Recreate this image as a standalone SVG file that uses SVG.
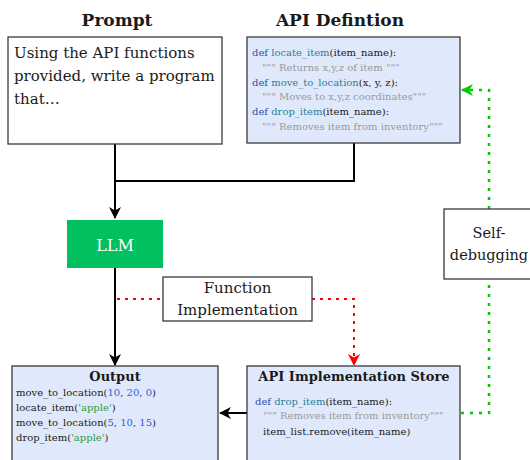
<svg xmlns="http://www.w3.org/2000/svg" width="530" height="460" viewBox="0 0 530 460">
<defs>
<style>
.box{stroke:#3a3a3a;stroke-width:1.3}
.blue{fill:#e0e9fb}
.white{fill:#ffffff}
.t{font-family:"DejaVu Serif","Liberation Serif",serif;fill:#1a1a1a}
.title{font-family:"DejaVu Serif","Liberation Serif",serif;font-weight:bold;fill:#1a1a1a}
.code{font-family:"DejaVu Serif","Liberation Serif",serif;font-size:10px;fill:#1a1a1a}
.kw{fill:#2b4fae}
.fn{fill:#2a7f9c}
.doc{fill:#9a9a9a}
.num{fill:#2a5ee0}
.str{fill:#2f9a3a}
.solid{fill:none;stroke:#000;stroke-width:2}
.red{fill:none;stroke:#ff0000;stroke-width:2;stroke-dasharray:3 5}
.green{fill:none;stroke:#00cc00;stroke-width:2.5;stroke-dasharray:3 6}
</style>
<marker id="ab" markerWidth="12" markerHeight="12" viewBox="0 0 12 12" refX="11" refY="6" orient="auto" markerUnits="userSpaceOnUse">
<path d="M0,0 L12,6 L0,12 L3.5,6 z" fill="#000"/>
</marker>
<marker id="ar" markerWidth="12" markerHeight="12" viewBox="0 0 12 12" refX="11" refY="6" orient="auto" markerUnits="userSpaceOnUse">
<path d="M0,0 L12,6 L0,12 L3.5,6 z" fill="#ff0000"/>
</marker>
<marker id="ag" markerWidth="12" markerHeight="12" viewBox="0 0 12 12" refX="11" refY="6" orient="auto" markerUnits="userSpaceOnUse">
<path d="M0,0 L12,6 L0,12 L3.5,6 z" fill="#00cc00"/>
</marker>
</defs>
<rect width="530" height="460" fill="#ffffff"/>

<g id="connectors">
<path class="solid" d="M115,144 L115,218" marker-end="url(#ab)"/>
<path class="solid" d="M354,143 L354,181 L115,181"/>
<path class="solid" d="M115,268 L115,365" marker-end="url(#ab)"/>
<path class="red" d="M117,299 L163,299"/>
<path class="red" d="M312,299 L354,299 L354,365" marker-end="url(#ar)"/>
<path class="solid" d="M247,413 L220,413" marker-end="url(#ab)"/>
<path class="green" d="M461,413 L489,413 L489,279"/>
<path class="green" d="M489,209 L489,90 L462,90" marker-end="url(#ag)"/>
</g>

<g id="prompt">
<text class="title" x="117" y="26" font-size="17" text-anchor="middle">Prompt</text>
<rect class="box white" x="8" y="37" width="214" height="107"/>
<text class="t" font-size="15" x="14" y="58">Using the API functions</text>
<text class="t" font-size="15" x="14" y="81">provided, write a program</text>
<text class="t" font-size="15" x="14" y="104">that…</text>
</g>

<g id="api-definition">
<text class="title" x="340" y="26" font-size="17" text-anchor="middle">API Defintion</text>
<rect class="box blue" x="247" y="37" width="213" height="106"/>
<text class="code" x="252" y="56"><tspan class="kw">def</tspan> <tspan class="fn">locate_item</tspan>(item_name):</text>
<text class="code doc" x="262" y="71">""" Returns x,y,z of item """</text>
<text class="code" x="252" y="86"><tspan class="kw">def</tspan> <tspan class="fn">move_to_location</tspan>(x, y, z):</text>
<text class="code doc" x="262" y="100">""" Moves to x,y,z coordinates"""</text>
<text class="code" x="252" y="115"><tspan class="kw">def</tspan> <tspan class="fn">drop_item</tspan>(item_name):</text>
<text class="code doc" x="262" y="130">""" Removes item from inventory"""</text>
</g>

<g id="llm">
<rect x="67" y="220" width="96" height="48" fill="#00c060"/>
<text class="t" x="115" y="251" font-size="16" text-anchor="middle" style="fill:#ffffff">LLM</text>
</g>

<g id="function-implementation">
<rect class="box white" x="163" y="277" width="149" height="44"/>
<text class="t" x="237.5" y="293" font-size="15" text-anchor="middle">Function</text>
<text class="t" x="237.5" y="315" font-size="15" text-anchor="middle">Implementation</text>
</g>

<g id="self-debugging">
<rect class="box white" x="444" y="209" width="90" height="70"/>
<text class="t" x="489" y="238" font-size="14.5" text-anchor="middle">Self-</text>
<text class="t" x="489" y="260" font-size="14.5" text-anchor="middle">debugging</text>
</g>

<g id="output">
<rect class="box blue" x="12" y="366" width="206" height="100"/>
<text class="title" x="115" y="381" font-size="13" text-anchor="middle">Output</text>
<text class="code" x="16" y="396">move_to_location(<tspan class="num">10</tspan>, <tspan class="num">20</tspan>, <tspan class="num">0</tspan>)</text>
<text class="code" x="16" y="411">locate_item(<tspan class="str">'apple'</tspan>)</text>
<text class="code" x="16" y="426">move_to_location(<tspan class="num">5</tspan>, <tspan class="num">10</tspan>, <tspan class="num">15</tspan>)</text>
<text class="code" x="16" y="441">drop_item(<tspan class="str">'apple'</tspan>)</text>
</g>

<g id="api-implementation-store">
<rect class="box blue" x="247" y="366" width="213" height="100"/>
<text class="title" x="354" y="381" font-size="13" text-anchor="middle">API Implementation Store</text>
<text class="code" x="255" y="405"><tspan class="kw">def</tspan> <tspan class="fn">drop_item</tspan>(item_name):</text>
<text class="code doc" x="263" y="419">""" Removes item from inventory"""</text>
<text class="code" x="263" y="435">item_list.remove(item_name)</text>
</g>
</svg>
